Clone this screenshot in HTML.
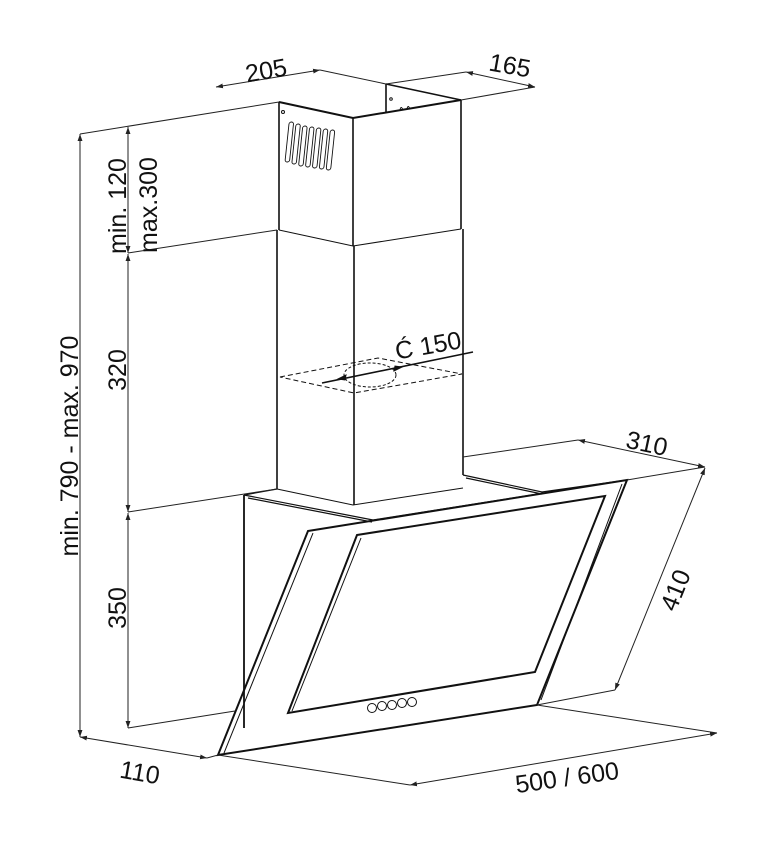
<!DOCTYPE html>
<html><head><meta charset="utf-8"><style>
html,body{margin:0;padding:0;background:#fff;width:769px;height:842px;overflow:hidden}
svg{display:block}
text{font-family:"Liberation Sans",sans-serif;fill:#111;text-anchor:middle}
</style></head><body>
<svg width="769" height="842" viewBox="0 0 769 842" xmlns="http://www.w3.org/2000/svg">
<defs>
<marker id="a" viewBox="0 0 10 10" refX="10" refY="5" markerWidth="7" markerHeight="7" orient="auto-start-reverse"><path d="M0,1.5 L10,5 L0,8.5 z" fill="#222"/></marker>
</defs>
<g stroke="#111" fill="none" stroke-width="1">
<path d="M279,102 L353,118 L461,100" stroke-width="2"/>
<path d="M386,84 L461,100 M386,84 L386,112" stroke-width="1.6"/>
<path d="M279,102 L279,230 M353,118 L353,246 M461,100 L461,229" stroke-width="1.6"/>
<path d="M279,230 L353,246 L461,229" />
<circle cx="283" cy="112" r="1.5"/>
<circle cx="391" cy="99" r="1.3"/>
<path d="M400,110 q1,-5 3,0 M407,109 q1,-5 3,0 M414,108 l3,-1"/>
<g stroke-width="0.9">
<rect x="289" y="122" width="4.5" height="40" rx="2.2" transform="skewX(-6) translate(13,0)"/>
<rect x="296" y="124" width="4.5" height="40" rx="2.2" transform="skewX(-6) translate(13,0)"/>
<rect x="303" y="126" width="4.5" height="40" rx="2.2" transform="skewX(-6) translate(13,0)"/>
<rect x="310" y="127" width="4.5" height="40" rx="2.2" transform="skewX(-6) translate(13,0)"/>
<rect x="317" y="128" width="4.5" height="40" rx="2.2" transform="skewX(-6) translate(13,0)"/>
<rect x="324" y="129" width="4.5" height="40" rx="2.2" transform="skewX(-6) translate(13,0)"/>
<rect x="331" y="130" width="4.5" height="40" rx="2.2" transform="skewX(-6) translate(13,0)"/>
</g>
<path d="M277,230 L277,489 M354,246 L354,505 M463,229 L463,475" stroke-width="1.6"/>
<path d="M277,489 L353,505 L463,488"/>
<path d="M280,377 L378,358 L462,374 L354,393 Z" stroke-dasharray="5,3"/>
<ellipse cx="370" cy="375" rx="26" ry="12" stroke-dasharray="3,2"/>
<path d="M322,383 L473,352" stroke-width="1.6"/>
<path d="M338,379 l8,-4 l-1,5 z M402,367 l-8,4 l1,-5 z" fill="#111"/>
<path d="M244,495 L244,728" stroke-width="1.8"/>
<path d="M244,495 L277,489 M244,495 L373,520 M248,498 L372,522" stroke-width="1.2"/>
<path d="M373,520 L627,480 M463,475 L542,492 L627,480 M466,478 L542,494" stroke-width="1.2"/>
<path d="M308,531 L627,480 L537,705 L218,755 Z" stroke-width="2"/>
<path d="M313,533 L224,753 M622,484 L541,700" stroke-width="1"/>
<path d="M357,535 L605,496 L535,672 L288,713 Z" stroke-width="2"/>
<path d="M361,538 L292,711" />
<g stroke-width="1">
<circle cx="372" cy="708" r="4.5"/><circle cx="382" cy="706" r="4.5"/><circle cx="392" cy="705" r="4.5"/><circle cx="402" cy="703" r="4.5"/><circle cx="412" cy="702" r="4.5"/>
</g>
<g stroke-width="1" stroke="#222">
<path d="M216,87 L320,70" marker-start="url(#a)" marker-end="url(#a)"/>
<path d="M320,70 L386,84"/>
<path d="M386,84 L466,72"/>
<path d="M466,72 L535,87" marker-start="url(#a)" marker-end="url(#a)"/>
<path d="M461,100 L535,87"/>
<path d="M80,134 L279,102"/>
<path d="M80,134 L80,737" marker-start="url(#a)" marker-end="url(#a)"/>
<path d="M128,127 L128,253" marker-start="url(#a)" marker-end="url(#a)"/>
<path d="M128,254 L128,512" marker-start="url(#a)" marker-end="url(#a)"/>
<path d="M128,513 L128,728" marker-start="url(#a)" marker-end="url(#a)"/>
<path d="M128,253 L277,230 M128,512 L277,489 M128,728 L235,711"/>
<path d="M80,737 L207,758" marker-start="url(#a)" marker-end="url(#a)"/>
<path d="M207,758 L218,755 L410,785"/>
<path d="M410,785 L717,733" marker-start="url(#a)" marker-end="url(#a)"/>
<path d="M537,705 L717,733"/>
<path d="M463,457 L578,440"/>
<path d="M578,440 L705,467" marker-start="url(#a)" marker-end="url(#a)"/>
<path d="M627,480 L705,467"/>
<path d="M705,468 L615,690" marker-start="url(#a)" marker-end="url(#a)"/>
<path d="M537,705 L615,690"/>
</g>
</g>
<g font-size="25">
<text x="266" y="79" transform="rotate(-10 266 70)">205</text>
<text x="510" y="74" transform="rotate(10 510 65)">165</text>
<text x="647" y="452" transform="rotate(12 647 443)">310</text>
<text x="675" y="599" transform="rotate(-68 675 590)">410</text>
<text x="567" y="786" transform="rotate(-8 567 777)">500 / 600</text>
<text x="140" y="781" transform="rotate(10 140 772)">110</text>
<text x="428" y="354" transform="rotate(-10 428 345)">Ć 150</text>
<text x="78" y="446" transform="rotate(-90 78 446)">min. 790 - max. 970</text>
<text x="126" y="206" transform="rotate(-90 126 206)">min. 120</text>
<text x="157" y="205" transform="rotate(-90 157 205)">max.300</text>
<text x="126" y="370" transform="rotate(-90 126 370)">320</text>
<text x="126" y="608" transform="rotate(-90 126 608)">350</text>
</g>
</svg>
</body></html>
